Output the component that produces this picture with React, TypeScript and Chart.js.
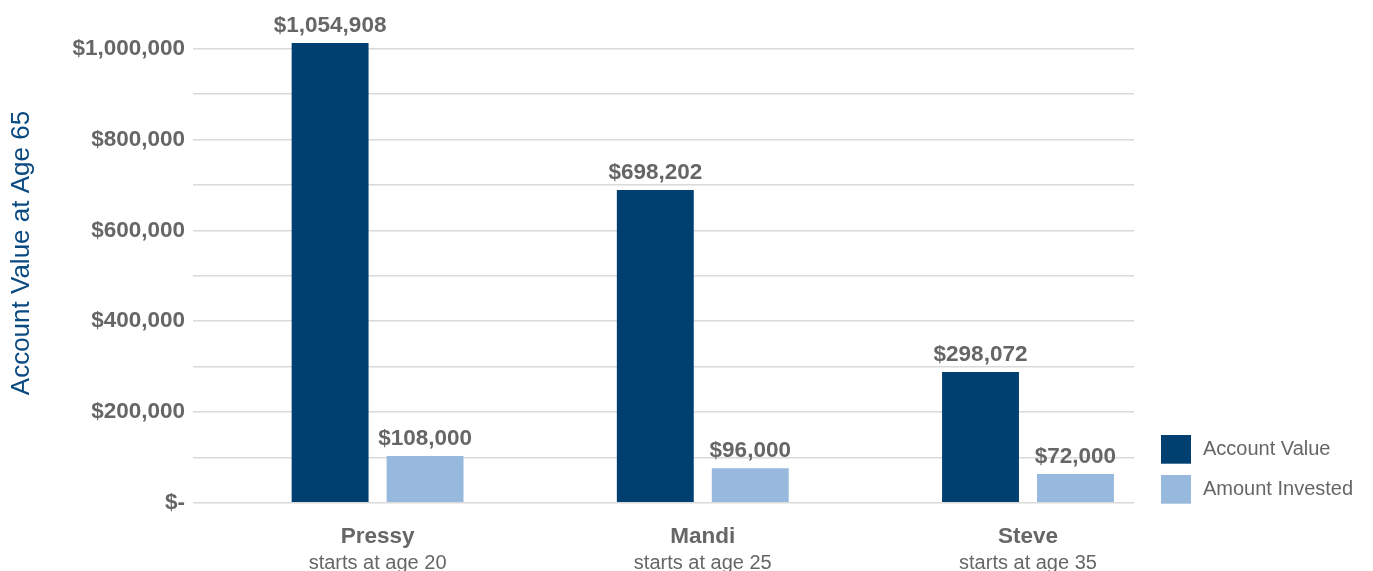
import React, { useEffect, useRef } from 'react';
import { Chart, registerables } from 'chart.js';

Chart.register(...registerables);

// ---- data ----
const people = ['Pressy', 'Mandi', 'Steve'];
const startAges = ['starts at age 20', 'starts at age 25', 'starts at age 35'];
const seriesNames = ['Account Value', 'Amount Invested'];
// bar heights as drawn in the picture
const accountValue = [1013000, 689000, 288000];
const amountInvested = [103000, 76000, 63000];
// value labels as printed above the bars
const accountValueLabels = ['$1,054,908', '$698,202', '$298,072'];
const amountInvestedLabels = ['$108,000', '$96,000', '$72,000'];
const yTitle = 'Account Value at Age 65';

const FONT = '"Liberation Sans", Arial, Helvetica, sans-serif';
const GRAY = '#666666';
const DARK = '#004070';
const LIGHT = '#98b9de';
const valueLabels = [accountValueLabels, amountInvestedLabels];

const valueLabelPlugin = {
  id: 'valueLabels',
  afterDatasetsDraw(chart: any) {
    const ctx = chart.ctx;
    ctx.save();
    ctx.font = `bold 22.5px ${FONT}`;
    ctx.fillStyle = GRAY;
    ctx.textAlign = 'center';
    ctx.textBaseline = 'alphabetic';
    chart.data.datasets.forEach((_ds: any, di: number) => {
      const meta = chart.getDatasetMeta(di);
      meta.data.forEach((bar: any, i: number) => {
        ctx.fillText(valueLabels[di][i], bar.x, bar.y - 11);
      });
    });
    ctx.restore();
  },
};

const sideLegendPlugin = {
  id: 'sideLegend',
  afterDraw(chart: any) {
    const { ctx, chartArea } = chart;
    ctx.save();
    chart.data.datasets.forEach((ds: any, i: number) => {
      const x = chartArea.right + 27;
      const y = chartArea.bottom - 67.7 + i * 40;
      ctx.fillStyle = ds.backgroundColor;
      ctx.fillRect(x, y, 30, 28.7);
      ctx.fillStyle = GRAY;
      ctx.font = `20px ${FONT}`;
      ctx.textAlign = 'left';
      ctx.textBaseline = 'middle';
      ctx.fillText(ds.label, x + 42, y + 14);
    });
    ctx.restore();
  },
};

const fmtMoney = (v: number) => '$' + Math.round(v).toLocaleString('en-US');

export default function App() {
  const ref = useRef<HTMLCanvasElement | null>(null);

  useEffect(() => {
    if (!ref.current) return;
    Chart.defaults.font.family = FONT;
    Chart.defaults.color = GRAY;
    const xMin = -0.5676;
    const xMax = 2.326;
    const chart = new Chart(ref.current, {
      type: 'bar',
      data: {
        datasets: [
          {
            label: seriesNames[0],
            data: accountValue.map((v, i) => ({ x: i, y: v })),
            backgroundColor: DARK,
            categoryPercentage: 0.584,
            barPercentage: 0.81,
            xAxisID: 'x',
          },
          {
            label: seriesNames[1],
            data: amountInvested.map((v, i) => ({ x: i, y: v })),
            backgroundColor: LIGHT,
            categoryPercentage: 0.584,
            barPercentage: 0.81,
            xAxisID: 'x',
          },
        ],
      } as any,
      options: {
        animation: false,
        responsive: true,
        maintainAspectRatio: false,
        layout: { padding: { top: 3.4, right: 239, bottom: 0, left: 0 } },
        plugins: { legend: { display: false }, tooltip: { enabled: false } },
        scales: {
          x: {
            type: 'linear',
            min: xMin,
            max: xMax,
            offset: false,
            afterBuildTicks: (s: any) => {
              s.ticks = people.map((_, i) => ({ value: i }));
            },
            afterFit: (s: any) => {
              s.height = 46;
              s.paddingLeft = 0;
              s.paddingRight = 0;
            },
            grid: { display: false, drawTicks: false },
            border: { display: false },
            ticks: {
              callback: (v: any) => people[v] ?? '',
              font: { family: FONT, size: 22.5, weight: 'bold' },
              color: GRAY,
              padding: 21,
              maxRotation: 0,
              autoSkip: false,
            },
          },
          x2: {
            type: 'linear',
            axis: 'x',
            position: 'bottom',
            min: xMin,
            max: xMax,
            offset: false,
            afterBuildTicks: (s: any) => {
              s.ticks = startAges.map((_, i) => ({ value: i }));
            },
            afterFit: (s: any) => {
              s.height = 22.3;
              s.paddingLeft = 0;
              s.paddingRight = 0;
            },
            grid: { display: false, drawTicks: false },
            border: { display: false },
            ticks: {
              callback: (v: any) => startAges[v] ?? '',
              font: { family: FONT, size: 20 },
              color: GRAY,
              padding: 3,
              maxRotation: 0,
              autoSkip: false,
            },
          },
          y: {
            min: 0,
            max: 1100000,
            afterBuildTicks: (s: any) => {
              s.ticks = s.ticks.filter((t: any) => t.value <= 1000000);
            },
            afterFit: (s: any) => {
              s.width = 193;
              s.paddingTop = 0;
              s.paddingBottom = 0;
            },
            ticks: {
              stepSize: 100000,
              autoSkip: false,
              callback: (v: any) => {
                const n = Number(v);
                if (n === 0) return '$-';
                if (n % 200000 === 0) return fmtMoney(n);
                return '';
              },
              font: { family: FONT, size: 22.5, weight: 'bold' },
              color: GRAY,
              padding: 8,
            },
            grid: { color: '#d9d9d9', lineWidth: 1.5, drawTicks: false },
            border: { display: false },
            title: {
              display: true,
              text: yTitle,
              color: '#0a4a80',
              font: { family: FONT, size: 26 },
              padding: { top: 6, bottom: 0 },
            },
          },
        },
      } as any,
      plugins: [valueLabelPlugin, sideLegendPlugin],
    });
    return () => chart.destroy();
  }, []);

  return (
    <div style={{ position: 'fixed', left: 0, top: 0, width: 1373, height: 571, background: '#fff' }}>
      <canvas ref={ref} />
    </div>
  );
}
